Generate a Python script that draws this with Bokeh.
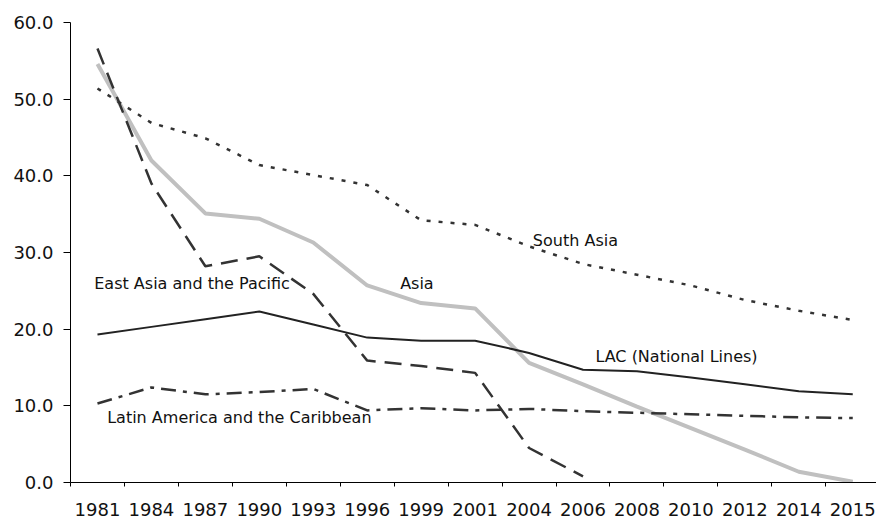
from bokeh.plotting import figure
from bokeh.models import FixedTicker, NumeralTickFormatter, Range1d, ColumnDataSource
from bokeh.core.properties import value
from bokeh.embed import file_html
from bokeh.resources import INLINE

years = ["1981", "1984", "1987", "1990", "1993", "1996", "1999", "2001",
         "2004", "2006", "2008", "2010", "2012", "2014", "2015"]

asia = [54.6, 42.0, 35.1, 34.4, 31.3, 25.7, 23.4, 22.7, 15.6, 12.8, 9.9, 7.1, 4.3, 1.4, 0.1]
east_asia = [56.6, 39.0, 28.2, 29.5, 24.6, 15.9, 15.2, 14.3, 4.5, 0.8]
south_asia = [51.4, 46.9, 44.9, 41.4, 40.1, 38.8, 34.2, 33.6, 30.8, 28.5, 27.1, 25.7, 23.8, 22.4, 21.2]
lac_national = [19.3, 20.3, 21.3, 22.3, 20.6, 18.9, 18.5, 18.5, 16.9, 14.7, 14.5, 13.7, 12.8, 11.9, 11.5]
latin_america = [10.3, 12.4, 11.5, 11.8, 12.2, 9.4, 9.7, 9.4, 9.6, 9.3, 9.1, 8.9, 8.7, 8.5, 8.4]

labels = ["South Asia", "East Asia and the Pacific", "Asia", "LAC (National Lines)",
          "Latin America and the Caribbean"]
label_x = [8.57, 0.44, 6.11, 9.73, 0.68]
label_y = [31.6, 25.9, 25.9, 16.4, 8.42]

pos = [i + 0.5 for i in range(len(years))]

FONT = "DejaVu Sans"

p = figure(width=876, height=521, output_backend="svg", toolbar_location=None,
           x_range=Range1d(0, 14.94), y_range=Range1d(0, 60),
           min_border_left=70, min_border_right=0, min_border_top=22, min_border_bottom=39)
p.outline_line_color = None
p.xgrid.visible = False
p.ygrid.visible = False
p.background_fill_color = "white"
p.border_fill_color = "white"

dark = "#333333"
p.line(pos, asia, line_color="#c0c0c0", line_width=4)
p.line(pos[:len(east_asia)], east_asia, line_color=dark, line_width=2.5, line_dash="17 9")
p.line(pos, south_asia, line_color=dark, line_width=2.5, line_dash="4 8")
p.line(pos, lac_national, line_color="#222222", line_width=2)
p.line(pos, latin_america, line_color=dark, line_width=2.5, line_dash="15 7 4 7")

src = ColumnDataSource(dict(x=label_x, y=label_y, t=labels))
p.text(x="x", y="y", text="t", source=src, text_font=value(FONT), text_font_size="16px",
       text_color="#111111", text_align="left", text_baseline="middle")

xa = p.xaxis[0]
xa.ticker = FixedTicker(ticks=pos, minor_ticks=list(range(len(years))))
xa.major_label_overrides = {p_: y for p_, y in zip(pos, years)}
xa.major_tick_out = 0
xa.major_tick_in = 0
xa.minor_tick_out = 4
xa.minor_tick_in = 0
xa.minor_tick_line_color = "black"
xa.axis_line_color = "black"
xa.major_label_text_font = FONT
xa.major_label_text_font_size = "18px"
xa.major_label_text_color = "#111111"
xa.major_label_standoff = 16

ya = p.yaxis[0]
ya.ticker = FixedTicker(ticks=[0, 10, 20, 30, 40, 50, 60])
ya.formatter = NumeralTickFormatter(format="0.0")
ya.major_tick_out = 7
ya.major_tick_in = 0
ya.minor_tick_line_color = None
ya.axis_line_color = "black"
ya.major_tick_line_color = "black"
ya.major_label_text_font = FONT
ya.major_label_text_font_size = "18px"
ya.major_label_text_color = "#111111"
ya.major_label_standoff = 10

open("out.html", "w").write(file_html(p, INLINE))
